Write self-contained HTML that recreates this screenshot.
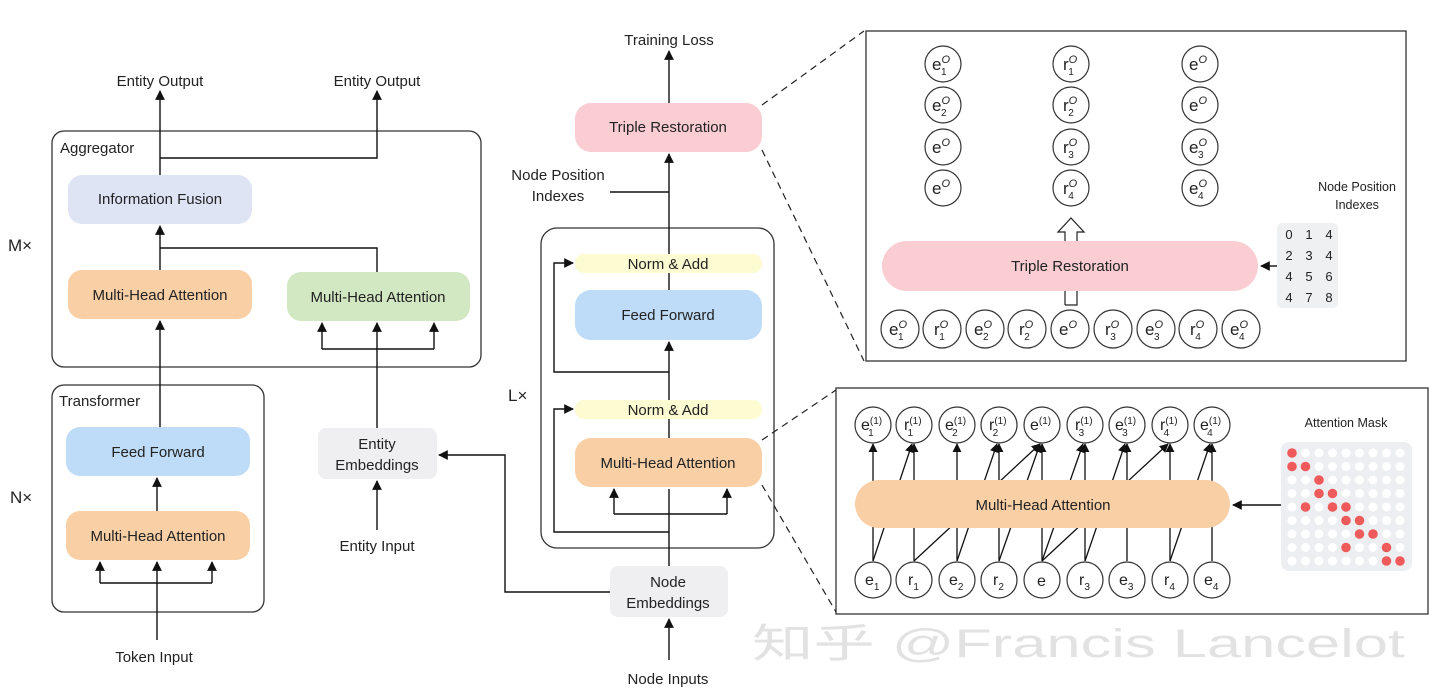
<!DOCTYPE html>
<html><head><meta charset="utf-8"><style>
html,body{margin:0;padding:0;background:#fff;}
svg{display:block;font-family:"Liberation Sans",sans-serif;}
</style></head><body>
<svg width="1440" height="699" viewBox="0 0 1440 699" xmlns="http://www.w3.org/2000/svg">
<defs>
<marker id="a" viewBox="0 0 10 10" refX="9" refY="5" markerWidth="7" markerHeight="7" orient="auto"><path d="M0,0 L10,5 L0,10 z" fill="#111"/></marker>
</defs>
<rect width="1440" height="699" fill="#fff"/>
<text x="752" y="657" font-size="40" fill="#e2e2e2" textLength="653" lengthAdjust="spacingAndGlyphs" style="font-family:'Liberation Sans','Noto Sans CJK SC',sans-serif">知乎 @Francis Lancelot</text>
<g fill="none" stroke="#333" stroke-width="1.3">
<rect x="52" y="131" width="429" height="236" rx="12"/>
<rect x="52" y="385" width="212" height="227" rx="12"/>
<rect x="541" y="228" width="233" height="320" rx="16"/>
<rect x="866" y="31" width="540" height="330"/>
<rect x="836" y="388" width="592" height="226"/>
</g>
<g stroke="#222" stroke-width="1.2" stroke-dasharray="7,5" fill="none">
<line x1="762" y1="105" x2="864" y2="31"/>
<line x1="762" y1="150" x2="864" y2="361"/>
<line x1="762" y1="440" x2="836" y2="390"/>
<line x1="762" y1="485" x2="836" y2="612"/>
</g>
<g font-size="15" fill="#222">
<text x="60" y="153">Aggregator</text>
<text x="59" y="406">Transformer</text>
<text x="8" y="251" font-size="17">M×</text>
<text x="10" y="503" font-size="17">N×</text>
<text x="508" y="401" font-size="17">L×</text>
</g>
<g>
<rect x="68" y="175" width="184" height="49" rx="14" fill="#dfe4f4"/>
<rect x="68" y="270" width="184" height="49" rx="14" fill="#f9cfa6"/>
<rect x="287" y="272" width="183" height="49" rx="14" fill="#d2e8c2"/>
<rect x="66" y="427" width="184" height="49" rx="14" fill="#bedcf8"/>
<rect x="66" y="511" width="184" height="49" rx="14" fill="#f9cfa6"/>
<rect x="318" y="428" width="119" height="51" rx="8" fill="#efeff2"/>
<rect x="575" y="103" width="187" height="49" rx="16" fill="#f9cdd2"/>
<rect x="575" y="254" width="187" height="19" rx="9" fill="#fcfbd2"/>
<rect x="575" y="290" width="187" height="50" rx="16" fill="#bedcf8"/>
<rect x="575" y="400" width="187" height="19" rx="9" fill="#fcfbd2"/>
<rect x="575" y="438" width="187" height="49" rx="16" fill="#f9cfa6"/>
<rect x="610" y="566" width="118" height="51" rx="8" fill="#efeff2"/>
</g>
<g font-size="15" fill="#222" text-anchor="middle">
<text x="160" y="204">Information Fusion</text>
<text x="160" y="300">Multi-Head Attention</text>
<text x="378" y="302">Multi-Head Attention</text>
<text x="158" y="457">Feed Forward</text>
<text x="158" y="541">Multi-Head Attention</text>
<text x="377" y="449">Entity</text>
<text x="377" y="470">Embeddings</text>
<text x="668" y="132">Triple Restoration</text>
<text x="668" y="269">Norm &amp; Add</text>
<text x="668" y="320">Feed Forward</text>
<text x="668" y="415">Norm &amp; Add</text>
<text x="668" y="468">Multi-Head Attention</text>
<text x="668" y="587">Node</text>
<text x="668" y="608">Embeddings</text>
<text x="160" y="86">Entity Output</text>
<text x="377" y="86">Entity Output</text>
<text x="377" y="551">Entity Input</text>
<text x="154" y="662">Token Input</text>
<text x="669" y="45">Training Loss</text>
<text x="668" y="684">Node Inputs</text>
<text x="558" y="180">Node Position</text>
<text x="558" y="201">Indexes</text>
</g>
<g stroke="#111" stroke-width="1.4" fill="none">
<path d="M160 175 V91" marker-end="url(#a)"/>
<path d="M160 158 H377 V91" marker-end="url(#a)"/>
<path d="M160 270 V226" marker-end="url(#a)"/>
<path d="M160 248 H377 V272"/>
<path d="M377 428 V349 M322 349 H434"/>
<path d="M322 349 V323" marker-end="url(#a)"/>
<path d="M377 349 V323" marker-end="url(#a)"/>
<path d="M434 349 V323" marker-end="url(#a)"/>
<path d="M377 530 V481" marker-end="url(#a)"/>
<path d="M160 427 V321" marker-end="url(#a)"/>
<path d="M157 511 V478" marker-end="url(#a)"/>
<path d="M157 640 V583 M100 583 H212"/>
<path d="M100 583 V562" marker-end="url(#a)"/>
<path d="M157 583 V562" marker-end="url(#a)"/>
<path d="M212 583 V562" marker-end="url(#a)"/>
<path d="M669 103 V51" marker-end="url(#a)"/>
<path d="M669 254 V154" marker-end="url(#a)"/>
<path d="M610 192 H669"/>
<path d="M669 290 V273"/>
<path d="M669 400 V342" marker-end="url(#a)"/>
<path d="M669 438 V419"/>
<path d="M669 372 H554 V263 H573" marker-end="url(#a)"/>
<path d="M669 566 V489"/>
<path d="M669 532 H554 V409 H573" marker-end="url(#a)"/>
<path d="M614 514 H727"/>
<path d="M614 514 V489" marker-end="url(#a)"/>
<path d="M727 514 V489" marker-end="url(#a)"/>
<path d="M669 660 V619" marker-end="url(#a)"/>
<path d="M610 592 H505 V455 H439" marker-end="url(#a)"/>
</g>

<rect x="882" y="241" width="376" height="50" rx="25" fill="#f9cdd2"/>
<text x="1070" y="271" font-size="15" fill="#222" text-anchor="middle">Triple Restoration</text>
<path d="M1065 305 V291 M1077 291 V305 H1065" stroke="#222" fill="none" stroke-width="1.2"/>
<path d="M1065 241 V232 H1058 L1071 218 L1084 232 H1077 V241" stroke="#222" fill="#fff" stroke-width="1.2"/>
<text x="1357" y="191" font-size="12.5" fill="#222" text-anchor="middle">Node Position</text>
<text x="1357" y="209" font-size="12.5" fill="#222" text-anchor="middle">Indexes</text>
<rect x="1277" y="223" width="61" height="85" rx="5" fill="#eff0f2"/>
<g font-size="13" fill="#222" text-anchor="middle">
<text x="1289" y="239">0</text><text x="1309" y="239">1</text><text x="1329" y="239">4</text>
<text x="1289" y="260">2</text><text x="1309" y="260">3</text><text x="1329" y="260">4</text>
<text x="1289" y="281">4</text><text x="1309" y="281">5</text><text x="1329" y="281">6</text>
<text x="1289" y="302">4</text><text x="1309" y="302">7</text><text x="1329" y="302">8</text>
</g>
<path d="M1277 266 H1261" stroke="#111" stroke-width="1.4" marker-end="url(#a)"/>
<g fill="#fff" stroke="#333" stroke-width="1.2">
<circle cx="943" cy="64" r="18"/><circle cx="943" cy="105" r="18"/><circle cx="943" cy="147" r="18"/><circle cx="943" cy="188" r="18"/>
<circle cx="1071" cy="64" r="18"/><circle cx="1071" cy="105" r="18"/><circle cx="1071" cy="147" r="18"/><circle cx="1071" cy="188" r="18"/>
<circle cx="1200" cy="64" r="18"/><circle cx="1200" cy="105" r="18"/><circle cx="1200" cy="147" r="18"/><circle cx="1200" cy="188" r="18"/>
<circle cx="900" cy="329" r="19"/><circle cx="942" cy="329" r="19"/><circle cx="985" cy="329" r="19"/><circle cx="1027" cy="329" r="19"/><circle cx="1070" cy="329" r="19"/><circle cx="1113" cy="329" r="19"/><circle cx="1156" cy="329" r="19"/><circle cx="1198" cy="329" r="19"/><circle cx="1241" cy="329" r="19"/>
</g>
<g font-size="17" fill="#222">
<text x="932" y="70">e<tspan font-size="11" font-style="italic" dy="-7">O</tspan><tspan font-size="10" dx="-9" dy="12">1</tspan></text>
<text x="932" y="111">e<tspan font-size="11" font-style="italic" dy="-7">O</tspan><tspan font-size="10" dx="-9" dy="12">2</tspan></text>
<text x="932" y="153">e<tspan font-size="11" font-style="italic" dy="-7">O</tspan></text>
<text x="932" y="194">e<tspan font-size="11" font-style="italic" dy="-7">O</tspan></text>
<text x="1063" y="70">r<tspan font-size="11" font-style="italic" dy="-7">O</tspan><tspan font-size="10" dx="-9" dy="12">1</tspan></text>
<text x="1063" y="111">r<tspan font-size="11" font-style="italic" dy="-7">O</tspan><tspan font-size="10" dx="-9" dy="12">2</tspan></text>
<text x="1063" y="153">r<tspan font-size="11" font-style="italic" dy="-7">O</tspan><tspan font-size="10" dx="-9" dy="12">3</tspan></text>
<text x="1063" y="194">r<tspan font-size="11" font-style="italic" dy="-7">O</tspan><tspan font-size="10" dx="-9" dy="12">4</tspan></text>
<text x="1189" y="70">e<tspan font-size="11" font-style="italic" dy="-7">O</tspan></text>
<text x="1189" y="111">e<tspan font-size="11" font-style="italic" dy="-7">O</tspan></text>
<text x="1189" y="153">e<tspan font-size="11" font-style="italic" dy="-7">O</tspan><tspan font-size="10" dx="-9" dy="12">3</tspan></text>
<text x="1189" y="194">e<tspan font-size="11" font-style="italic" dy="-7">O</tspan><tspan font-size="10" dx="-9" dy="12">4</tspan></text>
<text x="889" y="335">e<tspan font-size="11" font-style="italic" dy="-7">O</tspan><tspan font-size="10" dx="-9" dy="12">1</tspan></text>
<text x="934" y="335">r<tspan font-size="11" font-style="italic" dy="-7">O</tspan><tspan font-size="10" dx="-9" dy="12">1</tspan></text>
<text x="974" y="335">e<tspan font-size="11" font-style="italic" dy="-7">O</tspan><tspan font-size="10" dx="-9" dy="12">2</tspan></text>
<text x="1019" y="335">r<tspan font-size="11" font-style="italic" dy="-7">O</tspan><tspan font-size="10" dx="-9" dy="12">2</tspan></text>
<text x="1059" y="335">e<tspan font-size="11" font-style="italic" dy="-7">O</tspan></text>
<text x="1105" y="335">r<tspan font-size="11" font-style="italic" dy="-7">O</tspan><tspan font-size="10" dx="-9" dy="12">3</tspan></text>
<text x="1145" y="335">e<tspan font-size="11" font-style="italic" dy="-7">O</tspan><tspan font-size="10" dx="-9" dy="12">3</tspan></text>
<text x="1190" y="335">r<tspan font-size="11" font-style="italic" dy="-7">O</tspan><tspan font-size="10" dx="-9" dy="12">4</tspan></text>
<text x="1230" y="335">e<tspan font-size="11" font-style="italic" dy="-7">O</tspan><tspan font-size="10" dx="-9" dy="12">4</tspan></text>
</g>

<g stroke="#111" stroke-width="1.3" fill="none" marker-end="url(#a)">
<path d="M873 561 L873 444"/><path d="M914 561 L914 444"/><path d="M957 561 L957 444"/><path d="M999 561 L999 444"/><path d="M1042 561 L1042 444"/><path d="M1085 561 L1085 444"/><path d="M1127 561 L1127 444"/><path d="M1170 561 L1170 444"/><path d="M1212 561 L1212 444"/>
<path d="M873 561 L912 444"/><path d="M957 561 L997 444"/><path d="M914 561 L1040 444"/><path d="M999 561 L1040 444"/><path d="M1042 561 L1083 444"/><path d="M1085 561 L1125 444"/><path d="M1042 561 L1168 444"/><path d="M1170 561 L1210 444"/>
</g>
<rect x="855" y="480" width="375" height="48" rx="24" fill="#f9cfa6"/>
<text x="1043" y="510" font-size="15" fill="#222" text-anchor="middle">Multi-Head Attention</text>
<g fill="#fff" stroke="#333" stroke-width="1.2">
<circle cx="873" cy="425" r="18"/><circle cx="914" cy="425" r="18"/><circle cx="957" cy="425" r="18"/><circle cx="999" cy="425" r="18"/><circle cx="1042" cy="425" r="18"/><circle cx="1085" cy="425" r="18"/><circle cx="1127" cy="425" r="18"/><circle cx="1170" cy="425" r="18"/><circle cx="1212" cy="425" r="18"/>
<circle cx="873" cy="580" r="18"/><circle cx="914" cy="580" r="18"/><circle cx="957" cy="580" r="18"/><circle cx="999" cy="580" r="18"/><circle cx="1042" cy="580" r="18"/><circle cx="1085" cy="580" r="18"/><circle cx="1127" cy="580" r="18"/><circle cx="1170" cy="580" r="18"/><circle cx="1212" cy="580" r="18"/>
</g>
<g font-size="16" fill="#222">
<text x="861" y="430">e<tspan font-size="10" dy="-6">(1)</tspan><tspan font-size="10" dx="-14" dy="12">1</tspan></text>
<text x="904" y="430">r<tspan font-size="10" dy="-6">(1)</tspan><tspan font-size="10" dx="-14" dy="12">1</tspan></text>
<text x="945" y="430">e<tspan font-size="10" dy="-6">(1)</tspan><tspan font-size="10" dx="-14" dy="12">2</tspan></text>
<text x="989" y="430">r<tspan font-size="10" dy="-6">(1)</tspan><tspan font-size="10" dx="-14" dy="12">2</tspan></text>
<text x="1030" y="430">e<tspan font-size="10" dy="-6">(1)</tspan></text>
<text x="1075" y="430">r<tspan font-size="10" dy="-6">(1)</tspan><tspan font-size="10" dx="-14" dy="12">3</tspan></text>
<text x="1115" y="430">e<tspan font-size="10" dy="-6">(1)</tspan><tspan font-size="10" dx="-14" dy="12">3</tspan></text>
<text x="1160" y="430">r<tspan font-size="10" dy="-6">(1)</tspan><tspan font-size="10" dx="-14" dy="12">4</tspan></text>
<text x="1200" y="430">e<tspan font-size="10" dy="-6">(1)</tspan><tspan font-size="10" dx="-14" dy="12">4</tspan></text>
<text x="865" y="585">e<tspan font-size="10" dy="5">1</tspan></text>
<text x="908" y="585">r<tspan font-size="10" dy="5">1</tspan></text>
<text x="949" y="585">e<tspan font-size="10" dy="5">2</tspan></text>
<text x="993" y="585">r<tspan font-size="10" dy="5">2</tspan></text>
<text x="1037" y="586">e</text>
<text x="1079" y="585">r<tspan font-size="10" dy="5">3</tspan></text>
<text x="1119" y="585">e<tspan font-size="10" dy="5">3</tspan></text>
<text x="1164" y="585">r<tspan font-size="10" dy="5">4</tspan></text>
<text x="1204" y="585">e<tspan font-size="10" dy="5">4</tspan></text>
</g>
<text x="1346" y="427" font-size="12.5" fill="#222" text-anchor="middle">Attention Mask</text>
<rect x="1281" y="442" width="131" height="129" rx="8" fill="#eceef2"/>
<g fill="#fff">
<circle cx="1292" cy="453" r="4.5"/><circle cx="1305.5" cy="453" r="4.5"/><circle cx="1319" cy="453" r="4.5"/><circle cx="1332.5" cy="453" r="4.5"/><circle cx="1346" cy="453" r="4.5"/><circle cx="1359.5" cy="453" r="4.5"/><circle cx="1373" cy="453" r="4.5"/><circle cx="1386.5" cy="453" r="4.5"/><circle cx="1400" cy="453" r="4.5"/>
<circle cx="1292" cy="466.5" r="4.5"/><circle cx="1305.5" cy="466.5" r="4.5"/><circle cx="1319" cy="466.5" r="4.5"/><circle cx="1332.5" cy="466.5" r="4.5"/><circle cx="1346" cy="466.5" r="4.5"/><circle cx="1359.5" cy="466.5" r="4.5"/><circle cx="1373" cy="466.5" r="4.5"/><circle cx="1386.5" cy="466.5" r="4.5"/><circle cx="1400" cy="466.5" r="4.5"/>
<circle cx="1292" cy="480" r="4.5"/><circle cx="1305.5" cy="480" r="4.5"/><circle cx="1319" cy="480" r="4.5"/><circle cx="1332.5" cy="480" r="4.5"/><circle cx="1346" cy="480" r="4.5"/><circle cx="1359.5" cy="480" r="4.5"/><circle cx="1373" cy="480" r="4.5"/><circle cx="1386.5" cy="480" r="4.5"/><circle cx="1400" cy="480" r="4.5"/>
<circle cx="1292" cy="493.5" r="4.5"/><circle cx="1305.5" cy="493.5" r="4.5"/><circle cx="1319" cy="493.5" r="4.5"/><circle cx="1332.5" cy="493.5" r="4.5"/><circle cx="1346" cy="493.5" r="4.5"/><circle cx="1359.5" cy="493.5" r="4.5"/><circle cx="1373" cy="493.5" r="4.5"/><circle cx="1386.5" cy="493.5" r="4.5"/><circle cx="1400" cy="493.5" r="4.5"/>
<circle cx="1292" cy="507" r="4.5"/><circle cx="1305.5" cy="507" r="4.5"/><circle cx="1319" cy="507" r="4.5"/><circle cx="1332.5" cy="507" r="4.5"/><circle cx="1346" cy="507" r="4.5"/><circle cx="1359.5" cy="507" r="4.5"/><circle cx="1373" cy="507" r="4.5"/><circle cx="1386.5" cy="507" r="4.5"/><circle cx="1400" cy="507" r="4.5"/>
<circle cx="1292" cy="520.5" r="4.5"/><circle cx="1305.5" cy="520.5" r="4.5"/><circle cx="1319" cy="520.5" r="4.5"/><circle cx="1332.5" cy="520.5" r="4.5"/><circle cx="1346" cy="520.5" r="4.5"/><circle cx="1359.5" cy="520.5" r="4.5"/><circle cx="1373" cy="520.5" r="4.5"/><circle cx="1386.5" cy="520.5" r="4.5"/><circle cx="1400" cy="520.5" r="4.5"/>
<circle cx="1292" cy="534" r="4.5"/><circle cx="1305.5" cy="534" r="4.5"/><circle cx="1319" cy="534" r="4.5"/><circle cx="1332.5" cy="534" r="4.5"/><circle cx="1346" cy="534" r="4.5"/><circle cx="1359.5" cy="534" r="4.5"/><circle cx="1373" cy="534" r="4.5"/><circle cx="1386.5" cy="534" r="4.5"/><circle cx="1400" cy="534" r="4.5"/>
<circle cx="1292" cy="547.5" r="4.5"/><circle cx="1305.5" cy="547.5" r="4.5"/><circle cx="1319" cy="547.5" r="4.5"/><circle cx="1332.5" cy="547.5" r="4.5"/><circle cx="1346" cy="547.5" r="4.5"/><circle cx="1359.5" cy="547.5" r="4.5"/><circle cx="1373" cy="547.5" r="4.5"/><circle cx="1386.5" cy="547.5" r="4.5"/><circle cx="1400" cy="547.5" r="4.5"/>
<circle cx="1292" cy="561" r="4.5"/><circle cx="1305.5" cy="561" r="4.5"/><circle cx="1319" cy="561" r="4.5"/><circle cx="1332.5" cy="561" r="4.5"/><circle cx="1346" cy="561" r="4.5"/><circle cx="1359.5" cy="561" r="4.5"/><circle cx="1373" cy="561" r="4.5"/><circle cx="1386.5" cy="561" r="4.5"/><circle cx="1400" cy="561" r="4.5"/>
</g>
<g fill="#ef5a5a">
<circle cx="1292" cy="453" r="4.8"/>
<circle cx="1292" cy="466.5" r="4.8"/><circle cx="1305.5" cy="466.5" r="4.8"/>
<circle cx="1319" cy="480" r="4.8"/>
<circle cx="1319" cy="493.5" r="4.8"/><circle cx="1332.5" cy="493.5" r="4.8"/>
<circle cx="1305.5" cy="507" r="4.8"/><circle cx="1332.5" cy="507" r="4.8"/><circle cx="1346" cy="507" r="4.8"/>
<circle cx="1346" cy="520.5" r="4.8"/><circle cx="1359.5" cy="520.5" r="4.8"/>
<circle cx="1359.5" cy="534" r="4.8"/><circle cx="1373" cy="534" r="4.8"/>
<circle cx="1346" cy="547.5" r="4.8"/><circle cx="1386.5" cy="547.5" r="4.8"/>
<circle cx="1386.5" cy="561" r="4.8"/><circle cx="1400" cy="561" r="4.8"/>
</g>
<path d="M1281 505 H1233" stroke="#111" stroke-width="1.4" marker-end="url(#a)"/>
</svg>
</body></html>
